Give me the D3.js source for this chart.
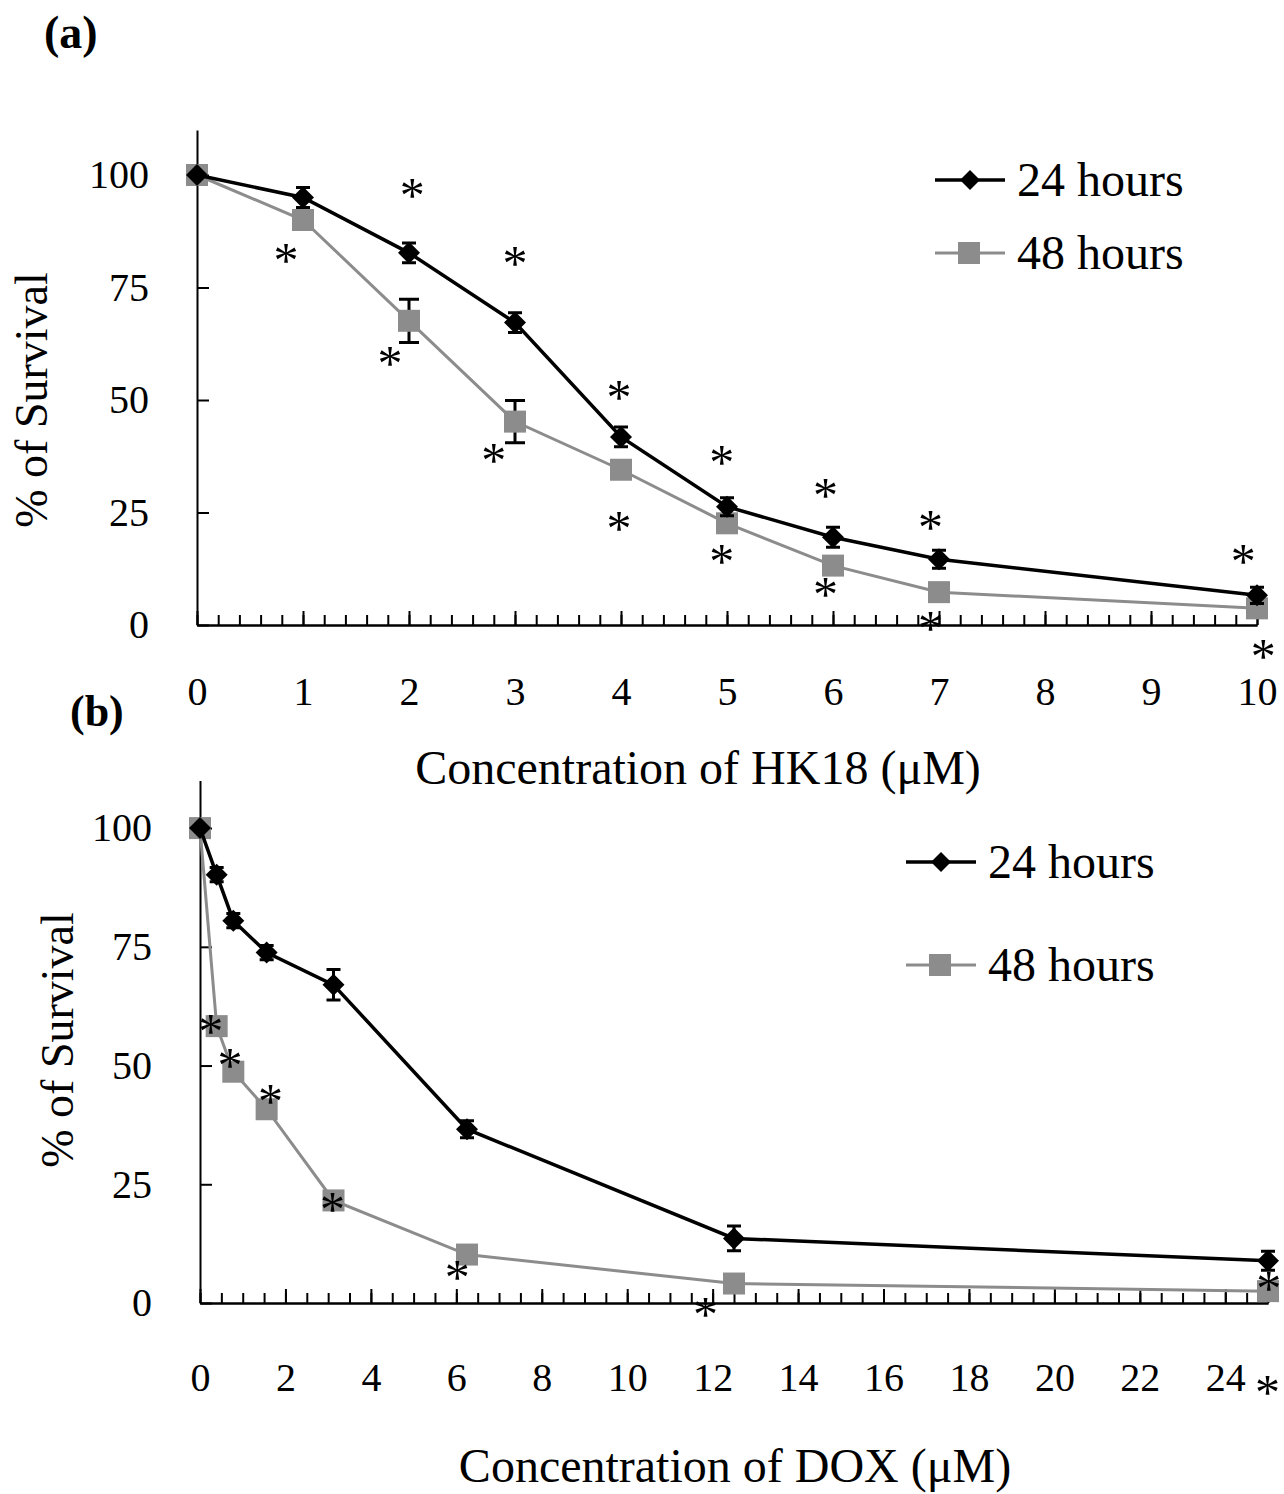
<!DOCTYPE html>
<html>
<head>
<meta charset="utf-8">
<script src="https://cdn.jsdelivr.net/npm/d3@7"></script>
<style>
body { margin:0; background:#fff; }
text { font-family: "Liberation Serif", "Times New Roman", serif; fill:#000; }
</style>
</head>
<body>
<svg id="chart"></svg>
<script>
var screen = {width:1284, height:1494}

// panel (a) - HK18
var concA = [0, 1, 2, 3, 4, 5, 6, 7, 10]
var surv24A = [100, 95, 82.7, 67.2, 41.8, 26.3, 19.5, 14.6, 6.6]
var err24A = [0, 2.2, 2.2, 2.2, 2.2, 2, 2.2, 2, 1.8]
var surv48A = [100, 90, 67.6, 45.2, 34.5, 22.6, 13.2, 7.3, 3.7]
var err48A = [0, 1, 4.8, 4.7, 1, 1, 1, 1, 1]
var tickLabelsA = [0, 1, 2, 3, 4, 5, 6, 7, 8, 9, 10]
var starsA = [[0.84, 82.9], [2.03, 97.3], [1.82, 60], [3.0, 82.2], [2.8, 38.4],
              [3.98, 52.4], [3.98, 23.3], [4.95, 38], [4.95, 16], [5.93, 30.7],
              [5.93, 8.7], [6.92, 23.6], [6.92, 1.1], [9.87, 16], [10.06, -5]]

// panel (b) - DOX
var concB = [0, 0.39, 0.78, 1.56, 3.125, 6.25, 12.5, 25]
var surv24B = [100, 90.2, 80.5, 73.8, 67, 36.6, 13.6, 8.9]
var err24B = [0, 1.5, 1.5, 1.5, 3.2, 1.8, 2.6, 2]
var surv48B = [100, 58.3, 48.7, 40.8, 21.6, 10.2, 4.1, 2.5]
var err48B = [0, 1, 1, 1, 1, 1, 1, 1]
var tickLabelsB = [0, 2, 4, 6, 8, 10, 12, 14, 16, 18, 20, 22, 24]
var starsB = [[0.25, 59], [0.7, 51.7], [1.65, 44.3], [3.1, 21.5], [6.02, 7.2],
              [11.83, -0.6], [25.02, 4.8], [24.99, -17]]

var seriesNames = ["24 hours", "48 hours"]

var grey = "#8c8c8c"

var svg = d3.select("#chart")
    .attr("width", screen.width)
    .attr("height", screen.height)

var diamondPath = function(r)
{
    return "M0," + (-r) + "L" + r + ",0L0," + r + "L" + (-r) + ",0Z"
}

var errPath = function(cx, t, b, w)
{
    return "M" + (cx - w) + "," + t + "H" + (cx + w) + "M" + cx + "," + t + "V" + b + "M" + (cx - w) + "," + b + "H" + (cx + w)
}

var drawPanel = function(p)
{
    var x = d3.scaleLinear().domain([0, p.xmax]).range([p.left, p.right])
    var y = d3.scaleLinear().domain([0, 110]).range([p.bottom, p.top])
    var g = svg.append("g")

    // minor ticks along the x axis
    g.append("g")
        .attr("transform", "translate(0," + p.bottom + ")")
        .call(d3.axisBottom(x).tickValues(d3.range(0, p.xmax + 0.001, p.minor)).tickSize(-10).tickSizeOuter(0).tickFormat(""))
    // major ticks + labels
    g.append("g")
        .attr("transform", "translate(0," + p.bottom + ")")
        .call(d3.axisBottom(x).tickValues(p.majors).tickSize(-14).tickSizeOuter(0).tickPadding(p.xpad).tickFormat(d3.format("d")))
    g.append("g")
        .attr("transform", "translate(" + p.left + ",0)")
        .call(d3.axisLeft(y).tickValues([0, 25, 50, 75, 100]).tickSize(-12).tickSizeOuter(0).tickPadding(48))

    g.selectAll(".tick text").style("font-size", "40px").style("font-family", "Liberation Serif")
    g.selectAll(".domain").style("stroke", "#000").style("stroke-width", 2)
    g.selectAll(".tick line").style("stroke", "#000").style("stroke-width", 2)

    var line = d3.line().x(function(d){ return x(d[0]) }).y(function(d){ return y(d[1]) })

    var pts48 = p.conc.map(function(c, i){ return [c, p.s48[i], p.e48[i]] })
    var pts24 = p.conc.map(function(c, i){ return [c, p.s24[i], p.e24[i]] })

    // 48 hours series
    g.append("path").attr("d", line(pts48))
        .style("fill", "none").style("stroke", grey).style("stroke-width", 3)
    g.selectAll(".eb48").data(pts48).enter().append("path")
        .attr("d", function(d){ return errPath(x(d[0]), y(d[1] + d[2]), y(d[1] - d[2]), 10) })
        .style("stroke", "#000").style("stroke-width", 3).style("fill", "none")
    g.selectAll(".sq").data(pts48).enter().append("rect")
        .attr("x", function(d){ return x(d[0]) - 11 })
        .attr("y", function(d){ return y(d[1]) - 11 })
        .attr("width", 22).attr("height", 22)
        .style("fill", grey)

    // 24 hours series
    g.append("path").attr("d", line(pts24))
        .style("fill", "none").style("stroke", "#000").style("stroke-width", 3.5)
    g.selectAll(".eb24").data(pts24).enter().append("path")
        .attr("d", function(d){ return errPath(x(d[0]), y(d[1] + d[2]), y(d[1] - d[2]), 7) })
        .style("stroke", "#000").style("stroke-width", 3).style("fill", "none")
    g.selectAll(".dm").data(pts24).enter().append("path")
        .attr("transform", function(d){ return "translate(" + x(d[0]) + "," + y(d[1]) + ")" })
        .attr("d", diamondPath(11))
        .style("fill", "#000")

    // significance stars
    g.selectAll(".star").data(p.stars).enter().append("text")
        .attr("x", function(d){ return x(d[0]) })
        .attr("y", function(d){ return y(d[1]) })
        .attr("dy", "0.5em")
        .attr("text-anchor", "middle")
        .style("font-size", "50px")
        .text("*")

    // legend
    var lg = [[seriesNames[0], p.leg[1]], [seriesNames[1], p.leg[2]]]
    lg.forEach(function(l, i){
        var ly = l[1]
        var lx = p.leg[0]
        g.append("line").attr("x1", lx).attr("x2", lx + 70).attr("y1", ly).attr("y2", ly)
            .style("stroke", i == 0 ? "#000" : grey).style("stroke-width", i == 0 ? 3.5 : 3)
        if (i == 0)
        {
            g.append("path").attr("transform", "translate(" + (lx + 35) + "," + ly + ")").attr("d", diamondPath(10)).style("fill", "#000")
        }
        else
        {
            g.append("rect").attr("x", lx + 23).attr("y", ly - 11).attr("width", 22).attr("height", 22).style("fill", grey)
        }
        g.append("text").attr("x", lx + 82).attr("y", ly + 16)
            .style("font-size", "48px")
            .text(l[0])
    })

    // titles
    g.append("text").attr("x", p.xtitle[0]).attr("y", p.xtitle[1])
        .attr("text-anchor", "middle").style("font-size", "48px")
        .text(p.xlabel)
    g.append("text")
        .attr("transform", "translate(" + p.ytitle[0] + "," + p.ytitle[1] + ") rotate(-90)")
        .attr("text-anchor", "middle").style("font-size", "46px")
        .text("% of Survival")
    g.append("text").attr("x", p.tag[0]).attr("y", p.tag[1])
        .style("font-size", p.tagSize).style("font-weight", "bold")
        .text(p.tagText)
}

drawPanel({
    xmax: 10, left: 197, right: 1257, top: 130, bottom: 625,
    minor: 0.2, majors: tickLabelsA, xpad: 52,
    conc: concA, s24: surv24A, e24: err24A, s48: surv48A, e48: err48A, stars: starsA,
    leg: [935, 180, 253],
    xlabel: "Concentration of HK18 (\u03bcM)", xtitle: [698, 784],
    ytitle: [47, 400], tag: [44, 48], tagSize: "46px", tagText: "(a)"
})

drawPanel({
    xmax: 25, left: 200, right: 1268, top: 780.6, bottom: 1303,
    minor: 0.5, majors: tickLabelsB, xpad: 60,
    conc: concB, s24: surv24B, e24: err24B, s48: surv48B, e48: err48B, stars: starsB,
    leg: [906, 862, 965],
    xlabel: "Concentration of DOX (\u03bcM)", xtitle: [735, 1482],
    ytitle: [73, 1040], tag: [70, 726], tagSize: "44px", tagText: "(b)"
})
</script>
</body>
</html>
